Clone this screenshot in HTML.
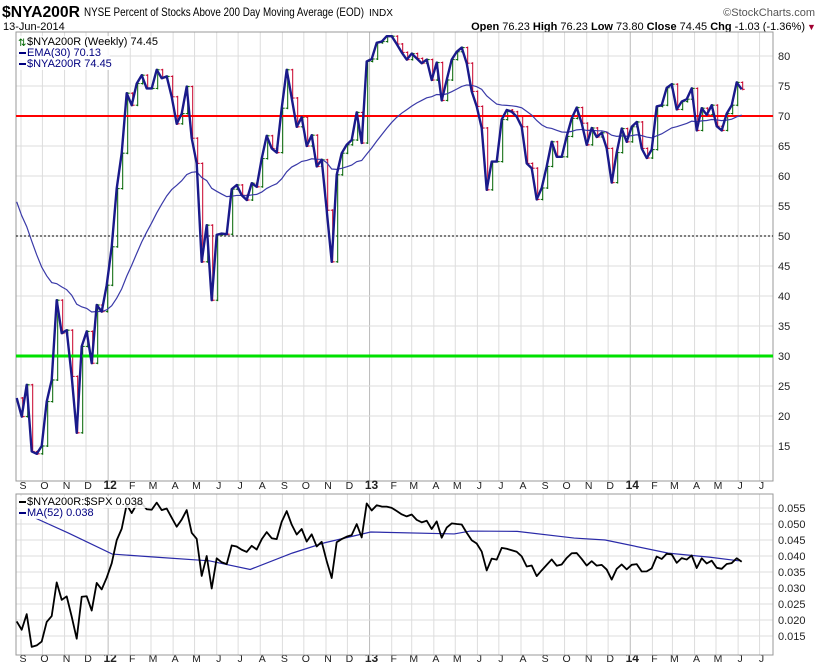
<!DOCTYPE html>
<html><head><meta charset="utf-8">
<style>
body{margin:0;background:#fff;width:820px;height:668px;overflow:hidden;font-family:"Liberation Sans",sans-serif}
svg{position:absolute;left:0;top:0}
</style></head>
<body>
<svg id="chart" width="820" height="668" xmlns="http://www.w3.org/2000/svg">
<g id="hdr">
<text x="2" y="17" font-size="16" font-weight="bold" textLength="78" lengthAdjust="spacingAndGlyphs">$NYA200R</text>
<text x="84" y="16" font-size="12" textLength="280" lengthAdjust="spacingAndGlyphs">NYSE Percent of Stocks Above 200 Day Moving Average (EOD)</text>
<text x="369" y="16" font-size="10" textLength="24" lengthAdjust="spacingAndGlyphs">INDX</text>
<text x="815" y="16" font-size="11" fill="#555" text-anchor="end">©StockCharts.com</text>
<text x="3" y="30" font-size="11">13-Jun-2014</text>
<text x="805" y="30" font-size="11" text-anchor="end"><tspan font-weight="bold">Open</tspan> 76.23 <tspan font-weight="bold">High</tspan> 76.23 <tspan font-weight="bold">Low</tspan> 73.80 <tspan font-weight="bold">Close</tspan> 74.45 <tspan font-weight="bold">Chg</tspan> -1.03 (-1.36%)</text>
<text x="807" y="30" font-size="9" fill="#a00030">▼</text>
</g>
<g id="main"></g>
<g id="lower"></g>
</svg>
<script>
const closes=[23,19.9,25.2,14.1,13.7,15,22.4,26,39.3,33.8,34.3,26.6,17.2,31.6,34.1,28.8,38.5,37.4,41.8,48.2,57.9,63.8,73.8,71.8,75.4,76.8,74.6,74.6,77.7,76.3,76.6,73.2,68.7,70.4,74.9,66.3,62.1,45.7,51.8,
39.3,50.2,50.4,50.3,57.8,58.5,56.8,56.0,58.8,58.2,62.9,66.7,64.6,63.9,71.3,77.7,73.0,68.2,69.8,65.0,66.8,61.6,62.7,54.3,45.7,60.2,63.8,65.2,66.0,70.6,65.5,79.1,79.5,82.2,82.4,83.3,83.3,
82,80.6,79.4,80.4,79.6,78.8,79.4,76,78.9,72.6,76,79.4,80.7,81.4,78.8,74.1,71.6,68,57.7,62.4,62.4,69.4,71,70.7,69.9,68.2,62.1,61.3,56.1,58,61.6,65.7,63.2,63.2,66.6,69.6,71.4,68.8,65.2,
68,66.5,67.2,64.6,58.9,63.9,67.9,65.7,68.2,69,64.6,63,64.4,71.6,71.8,74.7,75.3,71.1,72.4,72.8,74.6,67.6,71.3,70.2,71.8,68.3,67.6,70.4,71.8,75.6,74.45];
const spx=[1177,1174,1154,1216,1136,1131,1155,1224,1238,1285,1253,1263,1216,1159,1244,1255,1219,1265,1258,
1278,1289,1315,1316,1344,1342,1361,1366,1370,1371,1404,1397,1408,1398,1370,1378,1403,1369,1353,1295,1317,1278,1325,1343,1335,1362,1354,1357,1362,1385,1391,1405,1418,1411,1406,1438,1466,1460,1441,1460,1428,1433,1411,1414,1380,1359,1409,1416,1418,1413,1430,1402,
1466,1472,1486,1503,1513,1517,1520,1516,1518,1552,1560,1556,1569,1553,1588,1555,1582,1614,1633,1667,1650,1631,1643,1626,1593,1606,1632,1680,1692,1691,1710,1691,1655,1664,1633,1655,1688,1710,1692,1691,1703,1745,1760,1762,1771,1798,1805,1806,1805,1776,1818,1834,1831,
1842,1838,1790,1782,1797,1838,1836,1859,1878,1841,1872,1857,1865,1815,1864,1863,1881,1878,1877,1900,1924,1949,1936];
const maWeek=[3.8,10.3,19.1,28.1,38.5,46.7,55.1,61.5,70.8,87.5,90.7,100.1,111.5,117.7,130.3,138.7,144.4];
const maVal=[0.0518,0.0472,0.0406,0.0396,0.0385,0.0358,0.0409,0.0441,0.0475,0.0469,0.0478,0.0477,0.0456,0.0450,0.0409,0.0396,0.0385];
const mainTicks=[15,20,25,30,35,40,45,50,55,60,65,70,75,80];
const ratioTicks=[0.015,0.020,0.025,0.030,0.035,0.040,0.045,0.050,0.055];
const monthLabels=["S","O","N","D","12","F","M","A","M","J","J","A","S","O","N","D","13","F","M","A","M","J","J","A","S","O","N","D","14","F","M","A","M","J","J"];

const NS="http://www.w3.org/2000/svg";
const L=16,R=773,MT=32,MB=481,LT=494,LB=655;
const start=Date.UTC(2011,7,26);
const xw=i=>16.7+i*5;
const xd=(y,m,d)=>16.7+(Date.UTC(y,m,d)-start)/86400000/7*5;
const ym=v=>116-(v-70)*6;
const yr=v=>508-(v-0.055)*3200;
function el(p,t,a){const e=document.createElementNS(NS,t);for(const k in a)e.setAttribute(k,a[k]);p.appendChild(e);return e;}
const main=document.getElementById('main'),low=document.getElementById('lower');

const months=[];
for(let k=0;k<35;k++){const m=(8+k)%12,y=2011+Math.floor((8+k)/12);months.push([y,m]);}

function frame(g,top,bot,ticks,yf,fmt,nm){
  const bg=el(g,'rect',{x:L,y:top,width:R-L,height:bot-top,fill:'#fff',stroke:'none'});
  
  
  months.forEach(([y,m])=>{const x=xd(y,m,1);const ln=el(g,'line',{x1:x,x2:x,y1:top,y2:bot,stroke:m==0?'#bbb':'#ddd','stroke-width':1});
    
    });
  ticks.forEach(v=>{const y=yf(v);const ln=el(g,'line',{x1:L,x2:R,y1:y,y2:y,stroke:'#ddd','stroke-width':1});
    
    
    const t=el(g,'text',{x:R+5,y:y+4,'font-size':11,fill:'#222'});t.textContent=fmt(v);
    
    });
  const b=el(g,'rect',{x:L,y:top,width:R-L,height:bot-top,fill:'none',stroke:'#999','stroke-width':1});
  
  
}
frame(main,MT,MB,mainTicks,ym,v=>v,'main');
frame(low,LT,LB,ratioTicks,yr,v=>v.toFixed(3),'ratio');

[489,662].forEach(ty=>{
  months.forEach(([y,m],k)=>{const t=el(main,'text',{x:xd(y,m,1)+2,y:ty,'font-size':m==0?12:10.5,'font-weight':m==0?'bold':'normal','text-anchor':'middle',fill:'#222'});
    t.textContent=monthLabels[k];
    
    });
});

const clipLine=(v,c,w,dash,nm)=>{const y=ym(v);const ln=el(main,'line',{x1:L,x2:R,y1:y,y2:y,stroke:c,'stroke-width':w});if(dash)ln.setAttribute('stroke-dasharray',dash);
  
  };
clipLine(50,'#000',1,'2,2','midline-50');

closes.forEach((c,i)=>{if(i==0)return;const o=closes[i-1];const x=xw(i);const col=c>=o?'#006400':'#c8002a';
  const g=el(main,'g',{stroke:col,'stroke-width':1});
  
  
  el(g,'line',{x1:x+1,x2:x+1,y1:ym(Math.max(o,c))-1,y2:ym(Math.min(o,c))+1});
  el(g,'line',{x1:x-1,x2:x+1,y1:ym(o),y2:ym(o)});
  el(g,'line',{x1:x+1,x2:x+3,y1:ym(c),y2:ym(c)});
});
clipLine(70,'#f00',2,null,'overbought-line-70');
clipLine(30,'#00e000',3,null,'oversold-line-30');

let ema=[55.7];const a=2/31;for(let i=1;i<closes.length;i++)ema.push(ema[i-1]+a*(closes[i]-ema[i-1]));
const ep=el(main,'path',{d:'M'+ema.map((v,i)=>xw(i)+','+ym(v)).join('L'),fill:'none',stroke:'#3a3aa8','stroke-width':1.2});


const cp=el(main,'path',{d:'M'+closes.map((v,i)=>xw(i)+','+ym(v)).join('L'),fill:'none',stroke:'#1a1a8a','stroke-width':2.4,'stroke-linejoin':'round'});



const ratio=closes.map((c,i)=>c/spx[i]);
const mp=el(low,'path',{d:'M'+maWeek.map((w,i)=>xw(w)+','+yr(maVal[i])).join('L'),fill:'none',stroke:'#2a2aa8','stroke-width':1.2});


const rp=el(low,'path',{d:'M'+ratio.map((v,i)=>xw(i)+','+yr(v)).join('L'),fill:'none',stroke:'#000','stroke-width':1.8,'stroke-linejoin':'round'});



function leg(g,y,c,txt,nm,mark){const gg=el(g,'g',{});
  
  
  const bgw=txt.length*6.2+12;el(gg,'rect',{x:L+1,y:y-9,width:bgw,height:12,fill:'#fff','fill-opacity':0.85});
  if(mark){const t0=el(gg,'text',{x:L+2,y:y+1,'font-size':10,fill:'#060'});t0.textContent=mark;}
  else el(gg,'line',{x1:L+3,x2:L+10,y1:y-3,y2:y-3,stroke:c,'stroke-width':2});
  const t=el(gg,'text',{x:L+11,y:y,'font-size':11,fill:c});t.textContent=txt;}
leg(main,45,'#000','$NYA200R (Weekly) 74.45','legend-weekly','⇅');
leg(main,56,'#000080','EMA(30) 70.13','legend-ema30');
leg(main,67,'#000080','$NYA200R 74.45','legend-close');
leg(low,505,'#000','$NYA200R:$SPX 0.038','legend-ratio');
leg(low,516,'#000080','MA(52) 0.038','legend-ma52');
</script>
</body></html>
